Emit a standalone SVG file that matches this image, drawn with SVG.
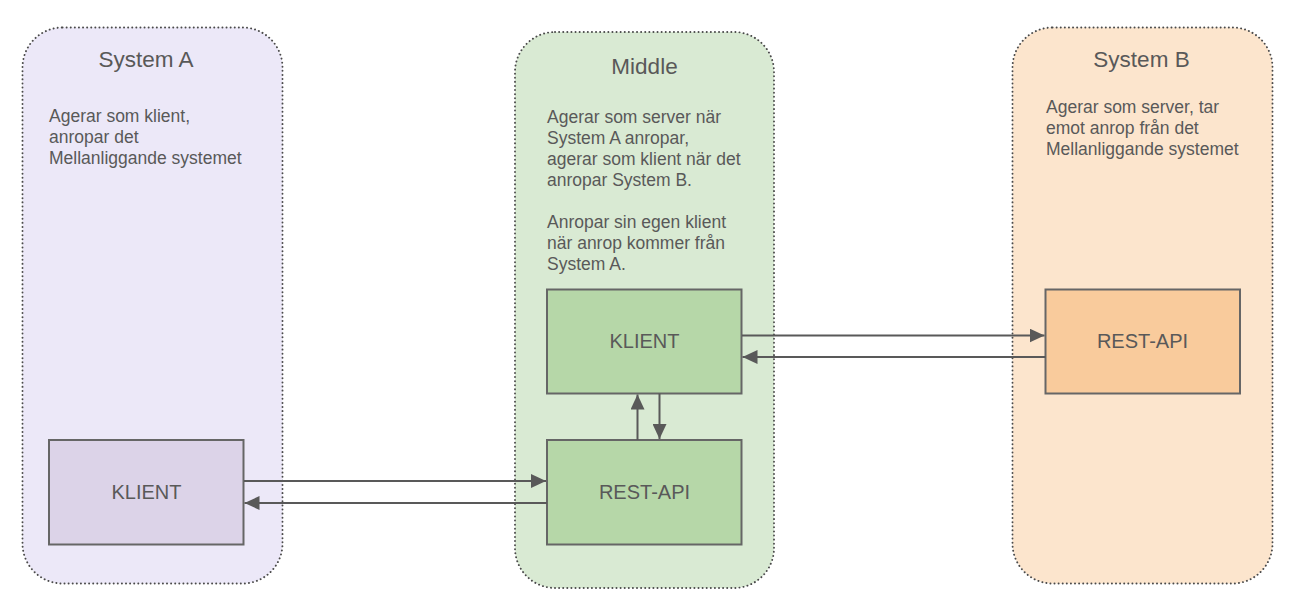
<svg xmlns="http://www.w3.org/2000/svg" width="1298" height="611" viewBox="0 0 1298 611">
<style>
.cont{stroke:#4a4a4a;stroke-width:1.9;stroke-dasharray:0.1 4;stroke-linecap:round}
.box{stroke:#666;stroke-width:2}
.title{font-family:"Liberation Sans",Arial,sans-serif;font-size:22.5px;fill:#595959;text-anchor:middle}
.desc{font-family:"Liberation Sans",Arial,sans-serif;font-size:17.5px;fill:#595959}
.lbl{font-family:"Liberation Sans",Arial,sans-serif;font-size:20px;fill:#595959;text-anchor:middle}
.conn{stroke:#595959;stroke-width:2;fill:none}
</style>
<defs>
<marker id="ah" markerUnits="userSpaceOnUse" markerWidth="16" markerHeight="14" refX="15" refY="7" orient="auto">
<path d="M0,0 L15,7 L0,14 Z" fill="#595959"/>
</marker>
</defs>
<rect width="1298" height="611" fill="#ffffff"/>
<g id="systemA">
<rect class="cont" x="22.5" y="27.5" width="260" height="556" rx="40" fill="#ece8f8"/>
<text class="title" x="146" y="67">System A</text>
<text class="desc" x="49" y="122">Agerar som klient,</text>
<text class="desc" x="49" y="143">anropar det</text>
<text class="desc" x="49" y="164">Mellanliggande systemet</text>
</g>
<g id="middle">
<rect class="cont" x="515" y="32" width="259" height="556" rx="40" fill="#d9ead3"/>
<text class="title" x="644.5" y="74">Middle</text>
<text class="desc" x="547" y="123">Agerar som server när</text>
<text class="desc" x="547" y="144">System A anropar,</text>
<text class="desc" x="547" y="165">agerar som klient när det</text>
<text class="desc" x="547" y="186">anropar System B.</text>
<text class="desc" x="547" y="228">Anropar sin egen klient</text>
<text class="desc" x="547" y="249">när anrop kommer från</text>
<text class="desc" x="547" y="270">System A.</text>
</g>
<g id="systemB">
<rect class="cont" x="1012.5" y="27.5" width="260" height="556" rx="40" fill="#fce5cd"/>
<text class="title" x="1141.5" y="67">System B</text>
<text class="desc" x="1046" y="113">Agerar som server, tar</text>
<text class="desc" x="1046" y="134">emot anrop från det</text>
<text class="desc" x="1046" y="155">Mellanliggande systemet</text>
</g>
<g id="a-klient">
<rect class="box" x="49" y="440" width="194.5" height="104.5" fill="#dcd3e8"/>
<text class="lbl" x="146.5" y="499">KLIENT</text>
</g>
<g id="m-klient">
<rect class="box" x="547" y="289.5" width="194.5" height="104" fill="#b6d7a8"/>
<text class="lbl" x="644.5" y="348">KLIENT</text>
</g>
<g id="m-restapi">
<rect class="box" x="547" y="440" width="194.5" height="104.5" fill="#b6d7a8"/>
<text class="lbl" x="644.5" y="499">REST-API</text>
</g>
<g id="b-restapi">
<rect class="box" x="1045.5" y="289.5" width="194.5" height="104" fill="#f9cb9c"/>
<text class="lbl" x="1142.5" y="348">REST-API</text>
</g>
<g id="connectors">
<line class="conn" x1="244" y1="481" x2="546" y2="481" marker-end="url(#ah)"/>
<line class="conn" x1="547" y1="503" x2="244.5" y2="503" marker-end="url(#ah)"/>
<line class="conn" x1="742" y1="335.5" x2="1044.5" y2="335.5" marker-end="url(#ah)"/>
<line class="conn" x1="1045.5" y1="357" x2="742.5" y2="357" marker-end="url(#ah)"/>
<line class="conn" x1="637.5" y1="440" x2="637.5" y2="394.5" marker-end="url(#ah)"/>
<line class="conn" x1="659.5" y1="393.5" x2="659.5" y2="439" marker-end="url(#ah)"/>
</g>
</svg>
